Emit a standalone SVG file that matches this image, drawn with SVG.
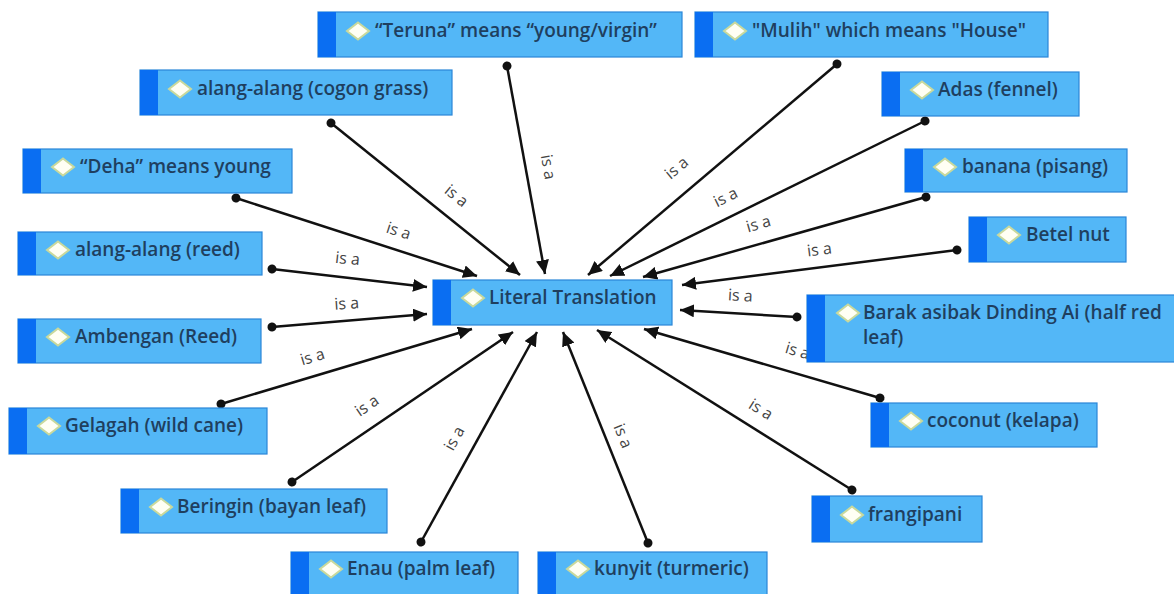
<svg xmlns="http://www.w3.org/2000/svg" width="1174" height="594" viewBox="0 0 1174 594">
<defs>
<style>
.box{fill:#53b7f7;stroke:#2a86d8;stroke-width:1.2}
.strip{fill:#0a6ef2}
.dia{fill:#fffff4;stroke:#c9d99c;stroke-width:2}
.t{font-family:"Open Sans","Liberation Sans",sans-serif;font-size:19px;font-weight:600;fill:#1f3f5f}
.lbl{font-family:"Open Sans","Liberation Sans",sans-serif;font-size:16px;fill:#444;text-anchor:middle}
.c{stroke:#111;stroke-width:2.5;fill:none;marker-end:url(#arr);marker-start:url(#dot)}
</style>
<marker id="arr" markerUnits="userSpaceOnUse" markerWidth="15" markerHeight="13" refX="14" refY="6.5" orient="auto" viewBox="0 0 15 13"><path d="M0,0 L14,6.5 L0,13 z" fill="#111"/></marker>
<marker id="dot" markerUnits="userSpaceOnUse" markerWidth="10" markerHeight="10" refX="5" refY="5" orient="auto" viewBox="0 0 10 10"><circle cx="5" cy="5" r="4.5" fill="#111"/></marker>
<path id="dm" d="M0,-8.5 L11,0 L0,8.5 L-11,0 z"/>
</defs>
<rect width="1174" height="594" fill="#fff"/>
<g id="connectors">
<line class="c" x1="507" y1="66" x2="545" y2="274"/>
<line class="c" x1="837" y1="64" x2="588" y2="275"/>
<line class="c" x1="331" y1="123" x2="520" y2="275"/>
<line class="c" x1="925" y1="121" x2="610" y2="276"/>
<line class="c" x1="236" y1="198" x2="477" y2="276"/>
<line class="c" x1="926" y1="197" x2="643" y2="277"/>
<line class="c" x1="957" y1="250" x2="682" y2="285"/>
<line class="c" x1="272" y1="269" x2="427" y2="287"/>
<line class="c" x1="272" y1="327" x2="427" y2="314"/>
<line class="c" x1="797" y1="317" x2="680" y2="310"/>
<line class="c" x1="221" y1="404" x2="472" y2="329"/>
<line class="c" x1="880" y1="398" x2="644" y2="329"/>
<line class="c" x1="292" y1="482" x2="513" y2="332"/>
<line class="c" x1="421" y1="542" x2="537" y2="332"/>
<line class="c" x1="648" y1="543" x2="563" y2="332"/>
<line class="c" x1="852" y1="490" x2="597" y2="330"/>
<text class="lbl" transform="translate(543,168) rotate(79.6)">is a</text>
<text class="lbl" transform="translate(680,172) rotate(-40)">is a</text>
<text class="lbl" transform="translate(453,200) rotate(39)">is a</text>
<text class="lbl" transform="translate(728,202) rotate(-26)">is a</text>
<text class="lbl" transform="translate(397,236) rotate(18)">is a</text>
<text class="lbl" transform="translate(760,229) rotate(-16)">is a</text>
<text class="lbl" transform="translate(820,255) rotate(-7)">is a</text>
<text class="lbl" transform="translate(347,264) rotate(6)">is a</text>
<text class="lbl" transform="translate(347,309) rotate(-4)">is a</text>
<text class="lbl" transform="translate(740,301) rotate(3)">is a</text>
<text class="lbl" transform="translate(314,362) rotate(-17)">is a</text>
<text class="lbl" transform="translate(796,356) rotate(16.5)">is a</text>
<text class="lbl" transform="translate(370,410) rotate(-34)">is a</text>
<text class="lbl" transform="translate(459,441) rotate(-61)">is a</text>
<text class="lbl" transform="translate(618,438) rotate(68)">is a</text>
<text class="lbl" transform="translate(758,414) rotate(32)">is a</text>
</g>
<g id="n-teruna"><rect class="box" x="318" y="12" width="364" height="45"/><rect class="strip" x="318" y="12" width="18" height="45"/><use href="#dm" class="dia" x="358" y="31"/><text class="t" x="375" y="37">“Teruna” means “young/virgin”</text></g>
<g id="n-mulih"><rect class="box" x="695" y="12" width="353" height="45"/><rect class="strip" x="695" y="12" width="18" height="45"/><use href="#dm" class="dia" x="735" y="31"/><text class="t" x="752" y="37">"Mulih" which means "House"</text></g>
<g id="n-cogon"><rect class="box" x="140" y="70" width="312" height="45"/><rect class="strip" x="140" y="70" width="18" height="45"/><use href="#dm" class="dia" x="180" y="89"/><text class="t" x="197" y="95">alang-alang (cogon grass)</text></g>
<g id="n-adas"><rect class="box" x="882" y="72" width="197" height="44"/><rect class="strip" x="882" y="72" width="18" height="44"/><use href="#dm" class="dia" x="922" y="90"/><text class="t" x="938" y="96">Adas (fennel)</text></g>
<g id="n-deha"><rect class="box" x="23" y="149" width="269" height="44"/><rect class="strip" x="23" y="149" width="18" height="44"/><use href="#dm" class="dia" x="63" y="167"/><text class="t" x="80" y="173">“Deha” means young</text></g>
<g id="n-banana"><rect class="box" x="905" y="149" width="222" height="43"/><rect class="strip" x="905" y="149" width="18" height="43"/><use href="#dm" class="dia" x="945" y="167"/><text class="t" x="962" y="173">banana (pisang)</text></g>
<g id="n-betel"><rect class="box" x="969" y="217" width="157" height="45"/><rect class="strip" x="969" y="217" width="18" height="45"/><use href="#dm" class="dia" x="1009" y="235"/><text class="t" x="1026" y="241">Betel nut</text></g>
<g id="n-reed"><rect class="box" x="18" y="232" width="244" height="43"/><rect class="strip" x="18" y="232" width="18" height="43"/><use href="#dm" class="dia" x="58" y="250"/><text class="t" x="75" y="256">alang-alang (reed)</text></g>
<g id="n-literal"><rect class="box" x="433" y="280" width="239" height="45"/><rect class="strip" x="433" y="280" width="18" height="45"/><use href="#dm" class="dia" x="473" y="298"/><text class="t" x="489" y="304">Literal Translation</text></g>
<g id="n-ambengan"><rect class="box" x="18" y="319" width="243" height="44"/><rect class="strip" x="18" y="319" width="18" height="44"/><use href="#dm" class="dia" x="58" y="337"/><text class="t" x="75" y="343">Ambengan (Reed)</text></g>
<g id="n-barak"><rect class="box" x="807" y="295" width="372" height="67"/><rect class="strip" x="807" y="295" width="18" height="67"/><use href="#dm" class="dia" x="848" y="313"/><text class="t" x="863" y="319">Barak asibak Dinding Ai (half red</text><text class="t" x="863" y="344">leaf)</text></g>
<g id="n-gelagah"><rect class="box" x="9" y="408" width="258" height="46"/><rect class="strip" x="9" y="408" width="18" height="46"/><use href="#dm" class="dia" x="49" y="426"/><text class="t" x="65" y="432">Gelagah (wild cane)</text></g>
<g id="n-coconut"><rect class="box" x="871" y="403" width="226" height="44"/><rect class="strip" x="871" y="403" width="18" height="44"/><use href="#dm" class="dia" x="911" y="421"/><text class="t" x="927" y="427">coconut (kelapa)</text></g>
<g id="n-beringin"><rect class="box" x="121" y="489" width="266" height="44"/><rect class="strip" x="121" y="489" width="18" height="44"/><use href="#dm" class="dia" x="161" y="507"/><text class="t" x="177" y="513">Beringin (bayan leaf)</text></g>
<g id="n-frangipani"><rect class="box" x="812" y="496" width="170" height="46"/><rect class="strip" x="812" y="496" width="18" height="46"/><use href="#dm" class="dia" x="852" y="515"/><text class="t" x="868" y="521">frangipani</text></g>
<g id="n-enau"><rect class="box" x="291" y="552" width="227" height="46"/><rect class="strip" x="291" y="552" width="18" height="46"/><use href="#dm" class="dia" x="331" y="569"/><text class="t" x="347" y="575">Enau (palm leaf)</text></g>
<g id="n-kunyit"><rect class="box" x="538" y="552" width="229" height="46"/><rect class="strip" x="538" y="552" width="18" height="46"/><use href="#dm" class="dia" x="578" y="569"/><text class="t" x="594" y="575">kunyit (turmeric)</text></g>
</svg>
